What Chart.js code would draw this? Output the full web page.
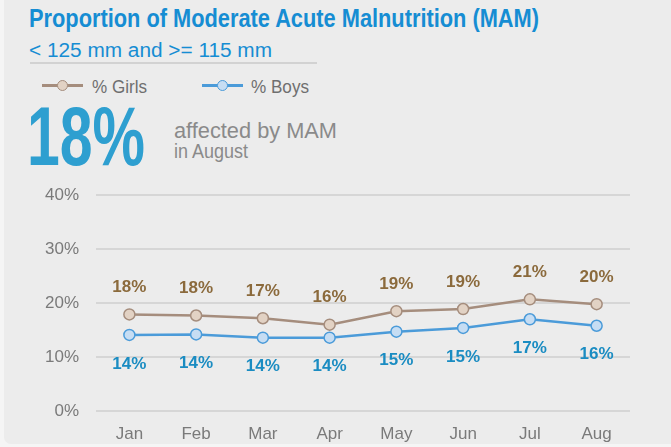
<!DOCTYPE html>
<html>
<head>
<meta charset="utf-8">
<script src="https://cdn.jsdelivr.net/npm/chart.js@4/dist/chart.umd.min.js"></script>
<style>
  html, body { margin: 0; padding: 0; }
  body { width: 671px; height: 447px; background: #f5f5f5; position: relative; overflow: hidden;
         font-family: "Liberation Sans", Arial, sans-serif; }
  #panel { position: absolute; left: 4px; top: -10px; width: 680px; height: 454px; background: #ececec; border-radius: 7px; }
  .fit { position: absolute; line-height: 1; white-space: nowrap; transform-origin: left top; }
  #title { left: 29px; top: 6px; font-size: 25px; font-weight: bold; color: #168dd3; }
  #sub { left: 29px; top: 40px; font-size: 20px; color: #168dd3; }
  #rule { position: absolute; left: 30px; top: 62px; width: 287px; height: 2px; background: #d2d2d2; }
  .ln { position: absolute; top: 84px; width: 41px; height: 2.5px; }
  .dot { position: absolute; top: 79.5px; width: 9px; height: 9px; border-radius: 50%; border: 1.5px solid; }
  .leg { top: 77px; font-size: 19px; color: #6f6f6f; }
  #big { left: 27px; top: 94px; font-size: 84px; font-weight: bold; color: #2e9fd0; }
  #aff { left: 174px; top: 120px; font-size: 22px; color: #8a8a8a; }
  #aug { left: 174px; top: 141px; font-size: 20px; color: #8a8a8a; }
  #chart { position: absolute; left: 0; top: 168px; }
</style>
</head>
<body>
<div id="panel"></div>
<div id="title" class="fit" data-w="510">Proportion of Moderate Acute Malnutrition (MAM)</div>
<div id="sub" class="fit" data-w="243">&lt; 125 mm and &gt;= 115 mm</div>
<div id="rule"></div>
<div class="ln" style="left:42px;background:#a58d7d"></div><div class="dot" style="left:57px;background:#e2d2c4;border-color:#a58d7d"></div>
<div class="leg fit" style="left:92px" data-w="55">% Girls</div>
<div class="ln" style="left:202px;background:#4b9bd9"></div><div class="dot" style="left:217px;background:#c6ddf3;border-color:#4b9bd9"></div>
<div class="leg fit" style="left:251px" data-w="58">% Boys</div>
<div id="big" class="fit" data-w="118">18%</div>
<div id="aff" class="fit" data-w="163">affected by MAM</div>
<div id="aug" class="fit" data-w="74">in August</div>
<canvas id="chart" width="671" height="279"></canvas>
<script>
const months = ['Jan', 'Feb', 'Mar', 'Apr', 'May', 'Jun', 'Jul', 'Aug'];
const girls = [17.9, 17.7, 17.2, 16.0, 18.5, 18.9, 20.7, 19.8];
const boys = [14.1, 14.2, 13.6, 13.6, 14.7, 15.4, 17.0, 15.8];
const girlsLabels = ['18%', '18%', '17%', '16%', '19%', '19%', '21%', '20%'];
const boysLabels = ['14%', '14%', '14%', '14%', '15%', '15%', '17%', '16%'];
const yTicks = [0, 10, 20, 30, 40];

// texto estrecho: se comprime horizontalmente al ancho del original
document.querySelectorAll('.fit').forEach(el => {
    const w = el.getBoundingClientRect().width;
    el.style.transform = 'scaleX(' + (el.dataset.w / w) + ')';
});

// etiquetas encima / debajo de cada punto
const pointLabels = {
    id: 'pointLabels',
    afterDatasetsDraw(chart) {
        const ctx = chart.ctx;
        ctx.save();
        ctx.font = 'bold 17px "Liberation Sans", Arial, sans-serif';
        ctx.textAlign = 'center';
        ctx.textBaseline = 'middle';
        chart.data.datasets.forEach((ds, i) => {
            const meta = chart.getDatasetMeta(i);
            meta.data.forEach((pt, j) => {
                ctx.fillStyle = ds.labelColor;
                ctx.fillText(ds.labels[j], pt.x, pt.y + ds.labelOffset);
            });
        });
        ctx.restore();
    }
};

new Chart(document.getElementById('chart'), {
    type: 'line',
    data: {
        labels: months,
        datasets: [{
            label: '% Girls',
            data: girls,
            labels: girlsLabels,
            labelColor: '#8b6a3c',
            labelOffset: -27,
            borderColor: '#a58d7d',
            backgroundColor: '#e2d2c4',
            pointBackgroundColor: '#e2d2c4',
            pointBorderColor: '#a58d7d',
            borderWidth: 2.5,
            pointRadius: 5.5,
            pointBorderWidth: 1.5
        }, {
            label: '% Boys',
            data: boys,
            labels: boysLabels,
            labelColor: '#1a8cc2',
            labelOffset: 29,
            borderColor: '#4b9bd9',
            backgroundColor: '#c6ddf3',
            pointBackgroundColor: '#c6ddf3',
            pointBorderColor: '#4b9bd9',
            borderWidth: 2.5,
            pointRadius: 5.5,
            pointBorderWidth: 1.5
        }]
    },
    options: {
        responsive: false,
        animation: false,
        layout: { padding: { top: 6, right: 41, left: 0, bottom: 0 } },
        plugins: { legend: { display: false }, tooltip: { enabled: false } },
        scales: {
            x: {
                offset: true,
                grid: { display: false, drawTicks: false },
                border: { display: false },
                ticks: { color: '#7a7a7a', padding: 13, font: { size: 17, family: '"Liberation Sans", Arial, sans-serif' } },
                afterFit: (s) => { s.height = 36; }
            },
            y: {
                min: 0,
                max: 40,
                afterBuildTicks: (s) => { s.ticks = yTicks.map(v => ({ value: v })); },
                grid: { color: '#d6d6d6', lineWidth: 2, drawTicks: false },
                border: { display: false },
                ticks: { color: '#7a7a7a', padding: 17, font: { size: 17, family: '"Liberation Sans", Arial, sans-serif' },
                         callback: (v) => v + '%' },
                afterFit: (s) => { s.width = 96; }
            }
        }
    },
    plugins: [pointLabels]
});
</script>
</body>
</html>
